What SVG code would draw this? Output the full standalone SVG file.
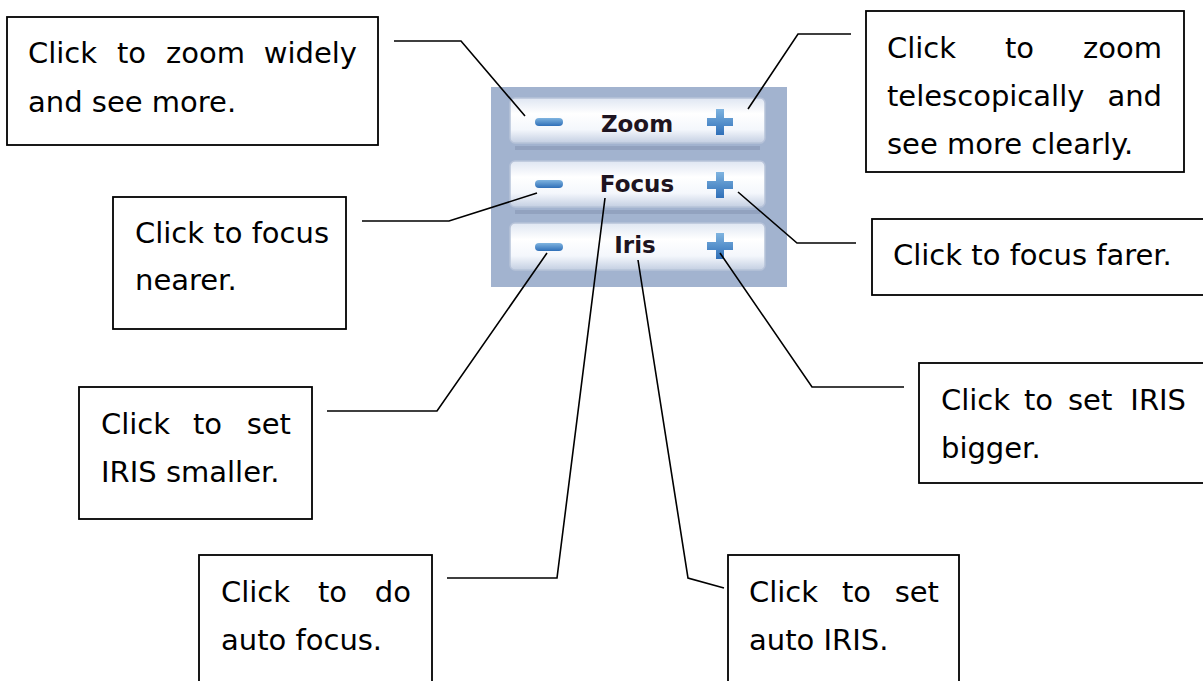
<svg xmlns="http://www.w3.org/2000/svg" width="1203" height="681" viewBox="0 0 1203 681">
<style>
.box{fill:#fff;stroke:#000;stroke-width:1.8}
.t{font-family:"DejaVu Sans","Verdana",sans-serif;font-size:29px;fill:#000}
.e{text-anchor:end}
.lbl{font-family:"DejaVu Sans","Tahoma",sans-serif;font-weight:bold;font-size:23px;fill:#1e1420;text-anchor:middle}
.btn{fill:url(#bg);stroke:#b7c3d9;stroke-width:1.5}
.ic{fill:url(#ig)}
.con{fill:none;stroke:#000;stroke-width:1.6}
</style>
<defs>
<linearGradient id="bg" x1="0" y1="0" x2="0" y2="1">
<stop offset="0" stop-color="#dfe6f2"/>
<stop offset="0.35" stop-color="#ffffff"/>
<stop offset="0.7" stop-color="#f4f7fc"/>
<stop offset="1" stop-color="#c4cfe2"/>
</linearGradient>
<linearGradient id="ig" x1="0" y1="0" x2="0" y2="1">
<stop offset="0" stop-color="#7fb4e0"/>
<stop offset="1" stop-color="#2f6fb8"/>
</linearGradient>
</defs>

<g id="panel">
<rect x="491" y="87" width="296" height="200" fill="#a2b3cf"/>
<rect x="510" y="98" width="255" height="45" rx="5" class="btn"/>
<rect x="510" y="161" width="255" height="46" rx="5" class="btn"/>
<rect x="510" y="223" width="255" height="47" rx="5" class="btn"/>
<rect x="515" y="146" width="245" height="4" fill="#8796b4" opacity="0.6"/>
<rect x="515" y="210" width="245" height="4" fill="#8796b4" opacity="0.6"/>
<rect x="535" y="118" width="28" height="8" rx="4" class="ic"/>
<rect x="535" y="180" width="28" height="8" rx="4" class="ic"/>
<rect x="535" y="243" width="28" height="8" rx="4" class="ic"/>
<path class="ic" d="M716,109h8v9h9v8h-9v9h-8v-9h-9v-8h9z"/>
<path class="ic" d="M716,172h8v9h9v8h-9v9h-8v-9h-9v-8h9z"/>
<path class="ic" d="M716,233h8v9h9v8h-9v9h-8v-9h-9v-8h9z"/>
<text class="lbl" x="637" y="132">Zoom</text>
<text class="lbl" x="637" y="192">Focus</text>
<text class="lbl" x="635" y="253">Iris</text>
</g>

<g id="connectors">
<path class="con" d="M394,41H461L525,116"/>
<path class="con" d="M851,34H798L748,109"/>
<path class="con" d="M362,221H449L537,193"/>
<path class="con" d="M856,243H797L738,192"/>
<path class="con" d="M327,411H437L547,253"/>
<path class="con" d="M447,578H557L605,198"/>
<path class="con" d="M724,588L688,578L638,260"/>
<path class="con" d="M904,387H812L720,253"/>
</g>

<g id="n1">
<rect class="box" x="7" y="17" width="371" height="128"/>
<text class="t" y="63"><tspan x="28">Click</tspan><tspan x="117">to</tspan><tspan x="166">zoom</tspan></text>
<text class="t e" x="357" y="63">widely</text>
<text class="t" x="28" y="112">and see more.</text>
</g>
<g id="n2">
<rect class="box" x="866" y="11" width="318" height="161"/>
<text class="t" y="58"><tspan x="887">Click</tspan><tspan x="1005">to</tspan></text>
<text class="t e" x="1162" y="58">zoom</text>
<text class="t" x="887" y="106">telescopically</text>
<text class="t e" x="1162" y="106">and</text>
<text class="t" x="887" y="154">see more clearly.</text>
</g>
<g id="n3">
<rect class="box" x="113" y="197" width="233" height="132"/>
<text class="t" x="135" y="243">Click to focus</text>
<text class="t" x="135" y="290">nearer.</text>
</g>
<g id="n4">
<rect class="box" x="872" y="219" width="340" height="76"/>
<text class="t" x="893" y="265">Click to focus farer.</text>
</g>
<g id="n5">
<rect class="box" x="79" y="387" width="233" height="132"/>
<text class="t" y="434"><tspan x="101">Click</tspan><tspan x="193">to</tspan></text>
<text class="t e" x="291" y="434">set</text>
<text class="t" x="101" y="482">IRIS smaller.</text>
</g>
<g id="n6">
<rect class="box" x="919" y="363" width="300" height="120"/>
<text class="t" y="410"><tspan x="941">Click</tspan><tspan x="1024">to</tspan><tspan x="1068">set</tspan></text>
<text class="t e" x="1186" y="410">IRIS</text>
<text class="t" x="941" y="458">bigger.</text>
</g>
<g id="n7">
<rect class="box" x="199" y="555" width="233" height="140"/>
<text class="t" y="602"><tspan x="221">Click</tspan><tspan x="318">to</tspan></text>
<text class="t e" x="411" y="602">do</text>
<text class="t" x="221" y="650">auto focus.</text>
</g>
<g id="n8">
<rect class="box" x="728" y="555" width="231" height="140"/>
<text class="t" y="602"><tspan x="749">Click</tspan><tspan x="842">to</tspan></text>
<text class="t e" x="939" y="602">set</text>
<text class="t" x="749" y="650">auto IRIS.</text>
</g>
</svg>
